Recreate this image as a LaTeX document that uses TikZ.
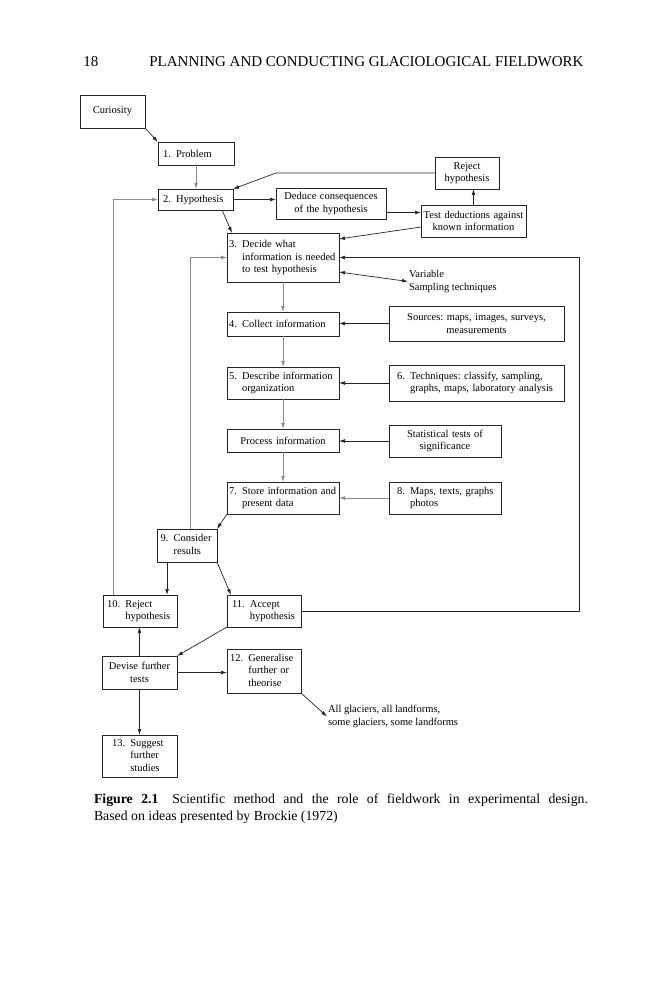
\documentclass[tikz,border=0pt]{standalone}
\usepackage{fontspec}
\setmainfont{Liberation Serif}
\usetikzlibrary{arrows.meta}
\frenchspacing

\begin{document}
\begin{tikzpicture}[x=1pt, y=-1pt, >={Latex[length=6pt,width=3.8pt]},
  every node/.style={font=\fontsize{10.5}{12.5}\selectfont, outer sep=0pt},
  box/.style={draw=black!85, line width=0.7pt, inner ysep=1pt, inner xsep=3pt, align=left},
  mid/.style={box, align=center},
  link/.style={draw=black!85, line width=0.7pt, ->},
  faint/.style={link, draw=black!45},
  both/.style={link, <->}]
\useasboundingbox (0,0) rectangle (664,1000);

\node[anchor=base west, font=\fontsize{15}{18}\selectfont] (pg) at (80,67) {18};
\node[anchor=base west, font=\fontsize{15}{18}\selectfont] (hd) at (146,67) {PLANNING AND CONDUCTING GLACIOLOGICAL FIELDWORK};

\node[mid, text width=59pt, minimum height=33pt] (cur) at (112.5,111.5) {Curiosity};
\node[box, text width=66pt, inner xsep=5pt, minimum height=23pt] (prob) at (196,153.5) {1.\enspace Problem};
\node[box, text width=65pt, inner xsep=5pt, minimum height=21pt] (hyp) at (195.5,199.5) {2.\enspace Hypothesis};
\node[mid, text width=104pt, minimum height=31pt] (ded) at (331,203.5) {Deduce consequences\\of the hypothesis};
\node[mid, text width=58pt, minimum height=32pt] (rej) at (467,173) {Reject\\hypothesis};
\node[mid, text width=103pt, inner xsep=1pt, minimum height=32pt] (test) at (473.5,221) {Test deductions against\\known information};

\node[box, text width=108pt, inner xsep=2pt, minimum height=49pt] (dec) at (283,257.5) {\begin{tabular}{@{}l@{\enspace}l@{}}3. & Decide what\\ & information is needed\\ & to test hypothesis\end{tabular}};
\node[anchor=west, align=left, inner sep=1pt] (var) at (408,281.5) {Variable\\Sampling techniques};

\node[box, text width=108pt, inner xsep=2pt, minimum height=24pt] (coll) at (283,324) {4.\enspace Collect information};
\node[mid, text width=169pt, minimum height=35pt] (src) at (476.5,323.5) {Sources: maps, images, surveys,\\measurements};

\node[box, text width=108pt, inner xsep=2pt, minimum height=32pt] (desc) at (283,383) {\begin{tabular}{@{}l@{\enspace}l@{}}5. & Describe information\\ & organization\end{tabular}};
\node[box, text width=159pt, inner xsep=8pt, minimum height=36pt] (tech) at (476.5,383) {\begin{tabular}{@{}l@{\enspace}l@{}}6. & Techniques: classify, sampling,\\ & graphs, maps, laboratory analysis\end{tabular}};

\node[mid, text width=106pt, minimum height=23pt] (proc) at (283,440.5) {Process information};
\node[mid, text width=106pt, minimum height=32pt] (stat) at (445,441) {Statistical tests of\\significance};

\node[box, text width=108pt, inner xsep=2pt, minimum height=32pt] (store) at (283,498) {\begin{tabular}{@{}l@{\enspace}l@{}}7. & Store information and\\ & present data\end{tabular}};
\node[box, text width=96pt, inner xsep=8pt, minimum height=32pt] (maps) at (445,498) {\begin{tabular}{@{}l@{\enspace}l@{}}8. & Maps, texts, graphs\\ & photos\end{tabular}};

\node[box, text width=53pt, inner xsep=3.5pt, minimum height=33pt] (cons) at (187,545.5) {\begin{tabular}{@{}l@{\enspace}l@{}}9. & Consider\\ & results\end{tabular}};
\node[box, text width=66pt, inner xsep=4pt, minimum height=32pt] (rejb) at (140,611) {\begin{tabular}{@{}l@{\enspace}l@{}}10. & Reject\\ & hypothesis\end{tabular}};
\node[box, text width=64pt, inner xsep=5pt, minimum height=32pt] (acc) at (264,611) {\begin{tabular}{@{}l@{\enspace}l@{}}11. & Accept\\ & hypothesis\end{tabular}};
\node[mid, text width=69pt, minimum height=33pt] (dev) at (139.5,672.5) {Devise further\\tests};
\node[box, text width=68pt, inner xsep=3pt, minimum height=44pt] (gen) at (264,671) {\begin{tabular}{@{}l@{\enspace}l@{}}12. & Generalise\\ & further or\\ & theorise\end{tabular}};
\node[anchor=west, align=left, inner sep=1pt] (all) at (327,716.5) {All glaciers, all landforms,\\some glaciers, some landforms};
\node[box, text width=55pt, inner xsep=10pt, minimum height=42pt] (sug) at (139.5,756) {\begin{tabular}{@{}l@{\enspace}l@{}}13. & Suggest\\ & further\\ & studies\end{tabular}};

\node[anchor=north west, text width=494pt, align=justify, inner sep=0pt, font=\fontsize{13.8}{17}\selectfont] (cap) at (94,794) {\textbf{Figure 2.1}\quad Scientific method and the role of fieldwork in experimental design.\linebreak Based on ideas presented by Brockie (1972)};

\draw[link] (cur.south east) -- (prob.north west);
\draw[faint] (prob.south) -- (prob.south |- hyp.north);
\draw[link] (hyp.east) -- (hyp.east -| ded.west);
\draw[link] ([yshift=-9pt]ded.east) -- ([yshift=-9pt]ded.east -| test.west);
\draw[link] (test.north) -- (test.north |- rej.south);
\draw[link] (rej.west) -- (rej.west -| ded.west) -- (hyp.north east);
\draw[link] ([xshift=-11pt]hyp.south east) -- ([xshift=5pt]dec.north west);
\draw[link] ([yshift=-6pt]test.west) -- ([yshift=-6pt]dec.north east);
\draw[link] (acc.east) -- ++(278,0) |- (dec.east);
\draw[both] ([yshift=-14.5pt]dec.east) -- (var.west);
\draw[faint] (dec.south) -- (coll.north);
\draw[link] (src.west) -- (src.west -| coll.east);
\draw[faint] (coll.south) -- (desc.north);
\draw[link] (tech.west) -- (tech.west -| desc.east);
\draw[faint] (desc.south) -- (proc.north);
\draw[link] (stat.west) -- (stat.west -| proc.east);
\draw[faint] (proc.south) -- (store.north);
\draw[faint] (maps.west) -- (maps.west -| store.east);
\draw[link] (store.south west) -- (cons.north east);
\draw[faint] ([xshift=3pt]cons.north) |- (dec.west);
\draw[faint] ([xshift=-27pt]rejb.north) |- (hyp.west);
\draw[link] ([xshift=-20pt]cons.south) -- ([xshift=-20pt]cons.south |- rejb.north);
\draw[link] (cons.south east) -- ([xshift=4pt]acc.north west);
\draw[link] (acc.south west) -- (dev.north east);
\draw[link] (dev.north) -- (dev.north |- rejb.south);
\draw[link] (dev.east) -- (dev.east -| gen.west);
\draw[link] (dev.south) -- (sug.north);
\draw[link] (gen.south east) -- (all.west);
\end{tikzpicture}
\end{document}
